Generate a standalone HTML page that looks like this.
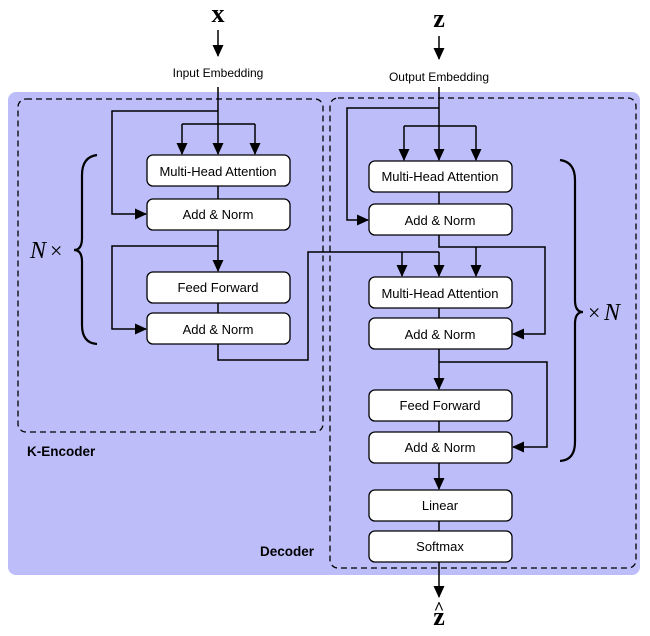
<!DOCTYPE html>
<html><head><style>body{margin:0;background:#fff}svg{display:block}.s{font-family:"Liberation Sans",sans-serif}.r{font-family:"Liberation Serif",serif}</style></head>
<body>
<svg width="650" height="636" viewBox="0 0 650 636" xmlns="http://www.w3.org/2000/svg">
<defs><marker id="a" markerWidth="12" markerHeight="11" refX="11" refY="5.5" orient="auto" markerUnits="userSpaceOnUse"><path d="M0,0 L12,5.5 L0,11 z" fill="#000"/></marker></defs>
<rect x="8" y="92" width="632" height="483" rx="8" fill="#bdbdfa"/>
<rect x="18" y="99" width="305" height="333" rx="8" fill="none" stroke="#000" stroke-width="1.3" stroke-dasharray="6,4"/>
<rect x="330" y="98" width="306" height="470" rx="8" fill="none" stroke="#000" stroke-width="1.3" stroke-dasharray="6,4"/>
<g fill="#fff" stroke="#000" stroke-width="1.3">
<rect x="147" y="155" width="143" height="31" rx="6"/><rect x="147" y="199" width="143" height="31" rx="6"/>
<rect x="147" y="272" width="143" height="31" rx="6"/><rect x="147" y="313" width="143" height="31" rx="6"/>
<rect x="369" y="161" width="143" height="31" rx="6"/><rect x="369" y="204" width="143" height="31" rx="6"/>
<rect x="369" y="277" width="143" height="31" rx="6"/><rect x="369" y="318" width="143" height="31" rx="6"/>
<rect x="369" y="390" width="143" height="31" rx="6"/><rect x="369" y="432" width="143" height="31" rx="6"/>
<rect x="369" y="490" width="143" height="31" rx="6"/><rect x="369" y="531" width="143" height="31" rx="6"/>
</g>
<g class="s" font-size="13" text-anchor="middle" fill="#000">
<text x="218" y="176">Multi-Head Attention</text><text x="218" y="219">Add &amp; Norm</text>
<text x="218" y="292">Feed Forward</text><text x="218" y="334">Add &amp; Norm</text>
<text x="440" y="181">Multi-Head Attention</text><text x="440" y="225">Add &amp; Norm</text>
<text x="440" y="298">Multi-Head Attention</text><text x="440" y="339">Add &amp; Norm</text>
<text x="440" y="410">Feed Forward</text><text x="440" y="452">Add &amp; Norm</text>
<text x="440" y="510">Linear</text><text x="440" y="551">Softmax</text>
<text x="218" y="77" font-size="12">Input Embedding</text><text x="439" y="81" font-size="12">Output Embedding</text>
</g>
<text class="r" x="218" y="22" font-weight="bold" font-size="26" text-anchor="middle">x</text>
<text class="r" x="439" y="27" font-weight="bold" font-size="26" text-anchor="middle">z</text>
<text class="r" x="439" y="625" font-weight="bold" font-size="26" text-anchor="middle">z</text>
<text class="r" x="439" y="614" font-weight="bold" font-size="18" text-anchor="middle">^</text>
<text class="s" x="27" y="456" font-weight="bold" font-size="13.5">K-Encoder</text>
<text class="s" x="260" y="556" font-weight="bold" font-size="13.5">Decoder</text>
<text class="r" x="30" y="258" font-style="italic" font-size="24">N</text><text class="r" x="50" y="258" font-size="22">×</text>
<text class="r" x="588" y="320" font-size="22">×</text><text class="r" x="604" y="320" font-style="italic" font-size="24">N</text>
<g fill="none" stroke="#000" stroke-width="2.2">
<path d="M97,155 Q82,157 82,175 L82,238 Q82,250 74,250 Q82,250 82,262 L82,325 Q82,343 97,344"/>
<path d="M560,160 Q575,162 575,180 L575,300 Q575,312 583,312 Q575,312 575,324 L575,442 Q575,460 560,461"/>
</g>
<g fill="none" stroke="#000" stroke-width="1.5">
<path d="M218,30 V56" marker-end="url(#a)"/>
<path d="M218,87 V154" marker-end="url(#a)"/>
<path d="M218,111 H112 V214 H146" marker-end="url(#a)"/>
<path d="M182,124 H255"/><path d="M182,124 V154" marker-end="url(#a)"/><path d="M255,124 V154" marker-end="url(#a)"/>
<path d="M218,186 V199"/>
<path d="M218,230 V271" marker-end="url(#a)"/>
<path d="M218,246 H112 V329 H146" marker-end="url(#a)"/>
<path d="M218,303 V313"/>
<path d="M218,344 V360 H308 V252 H439"/>
<path d="M402,252 V276" marker-end="url(#a)"/><path d="M439,252 V276" marker-end="url(#a)"/>
<path d="M439,36 V59" marker-end="url(#a)"/>
<path d="M439,87 V160" marker-end="url(#a)"/>
<path d="M439,108 H347 V220 H368" marker-end="url(#a)"/>
<path d="M404,126 H476"/><path d="M404,126 V160" marker-end="url(#a)"/><path d="M476,126 V160" marker-end="url(#a)"/>
<path d="M439,192 V204"/>
<path d="M439,235 V247 H545 V334 H513" marker-end="url(#a)"/>
<path d="M476,247 V276" marker-end="url(#a)"/>
<path d="M439,308 V318"/>
<path d="M439,349 V389" marker-end="url(#a)"/>
<path d="M439,362 H547 V447 H513" marker-end="url(#a)"/>
<path d="M439,421 V432"/>
<path d="M439,463 V489" marker-end="url(#a)"/>
<path d="M439,521 V531"/>
<path d="M439,562 V597" marker-end="url(#a)"/>
</g>
</svg>
</body></html>
